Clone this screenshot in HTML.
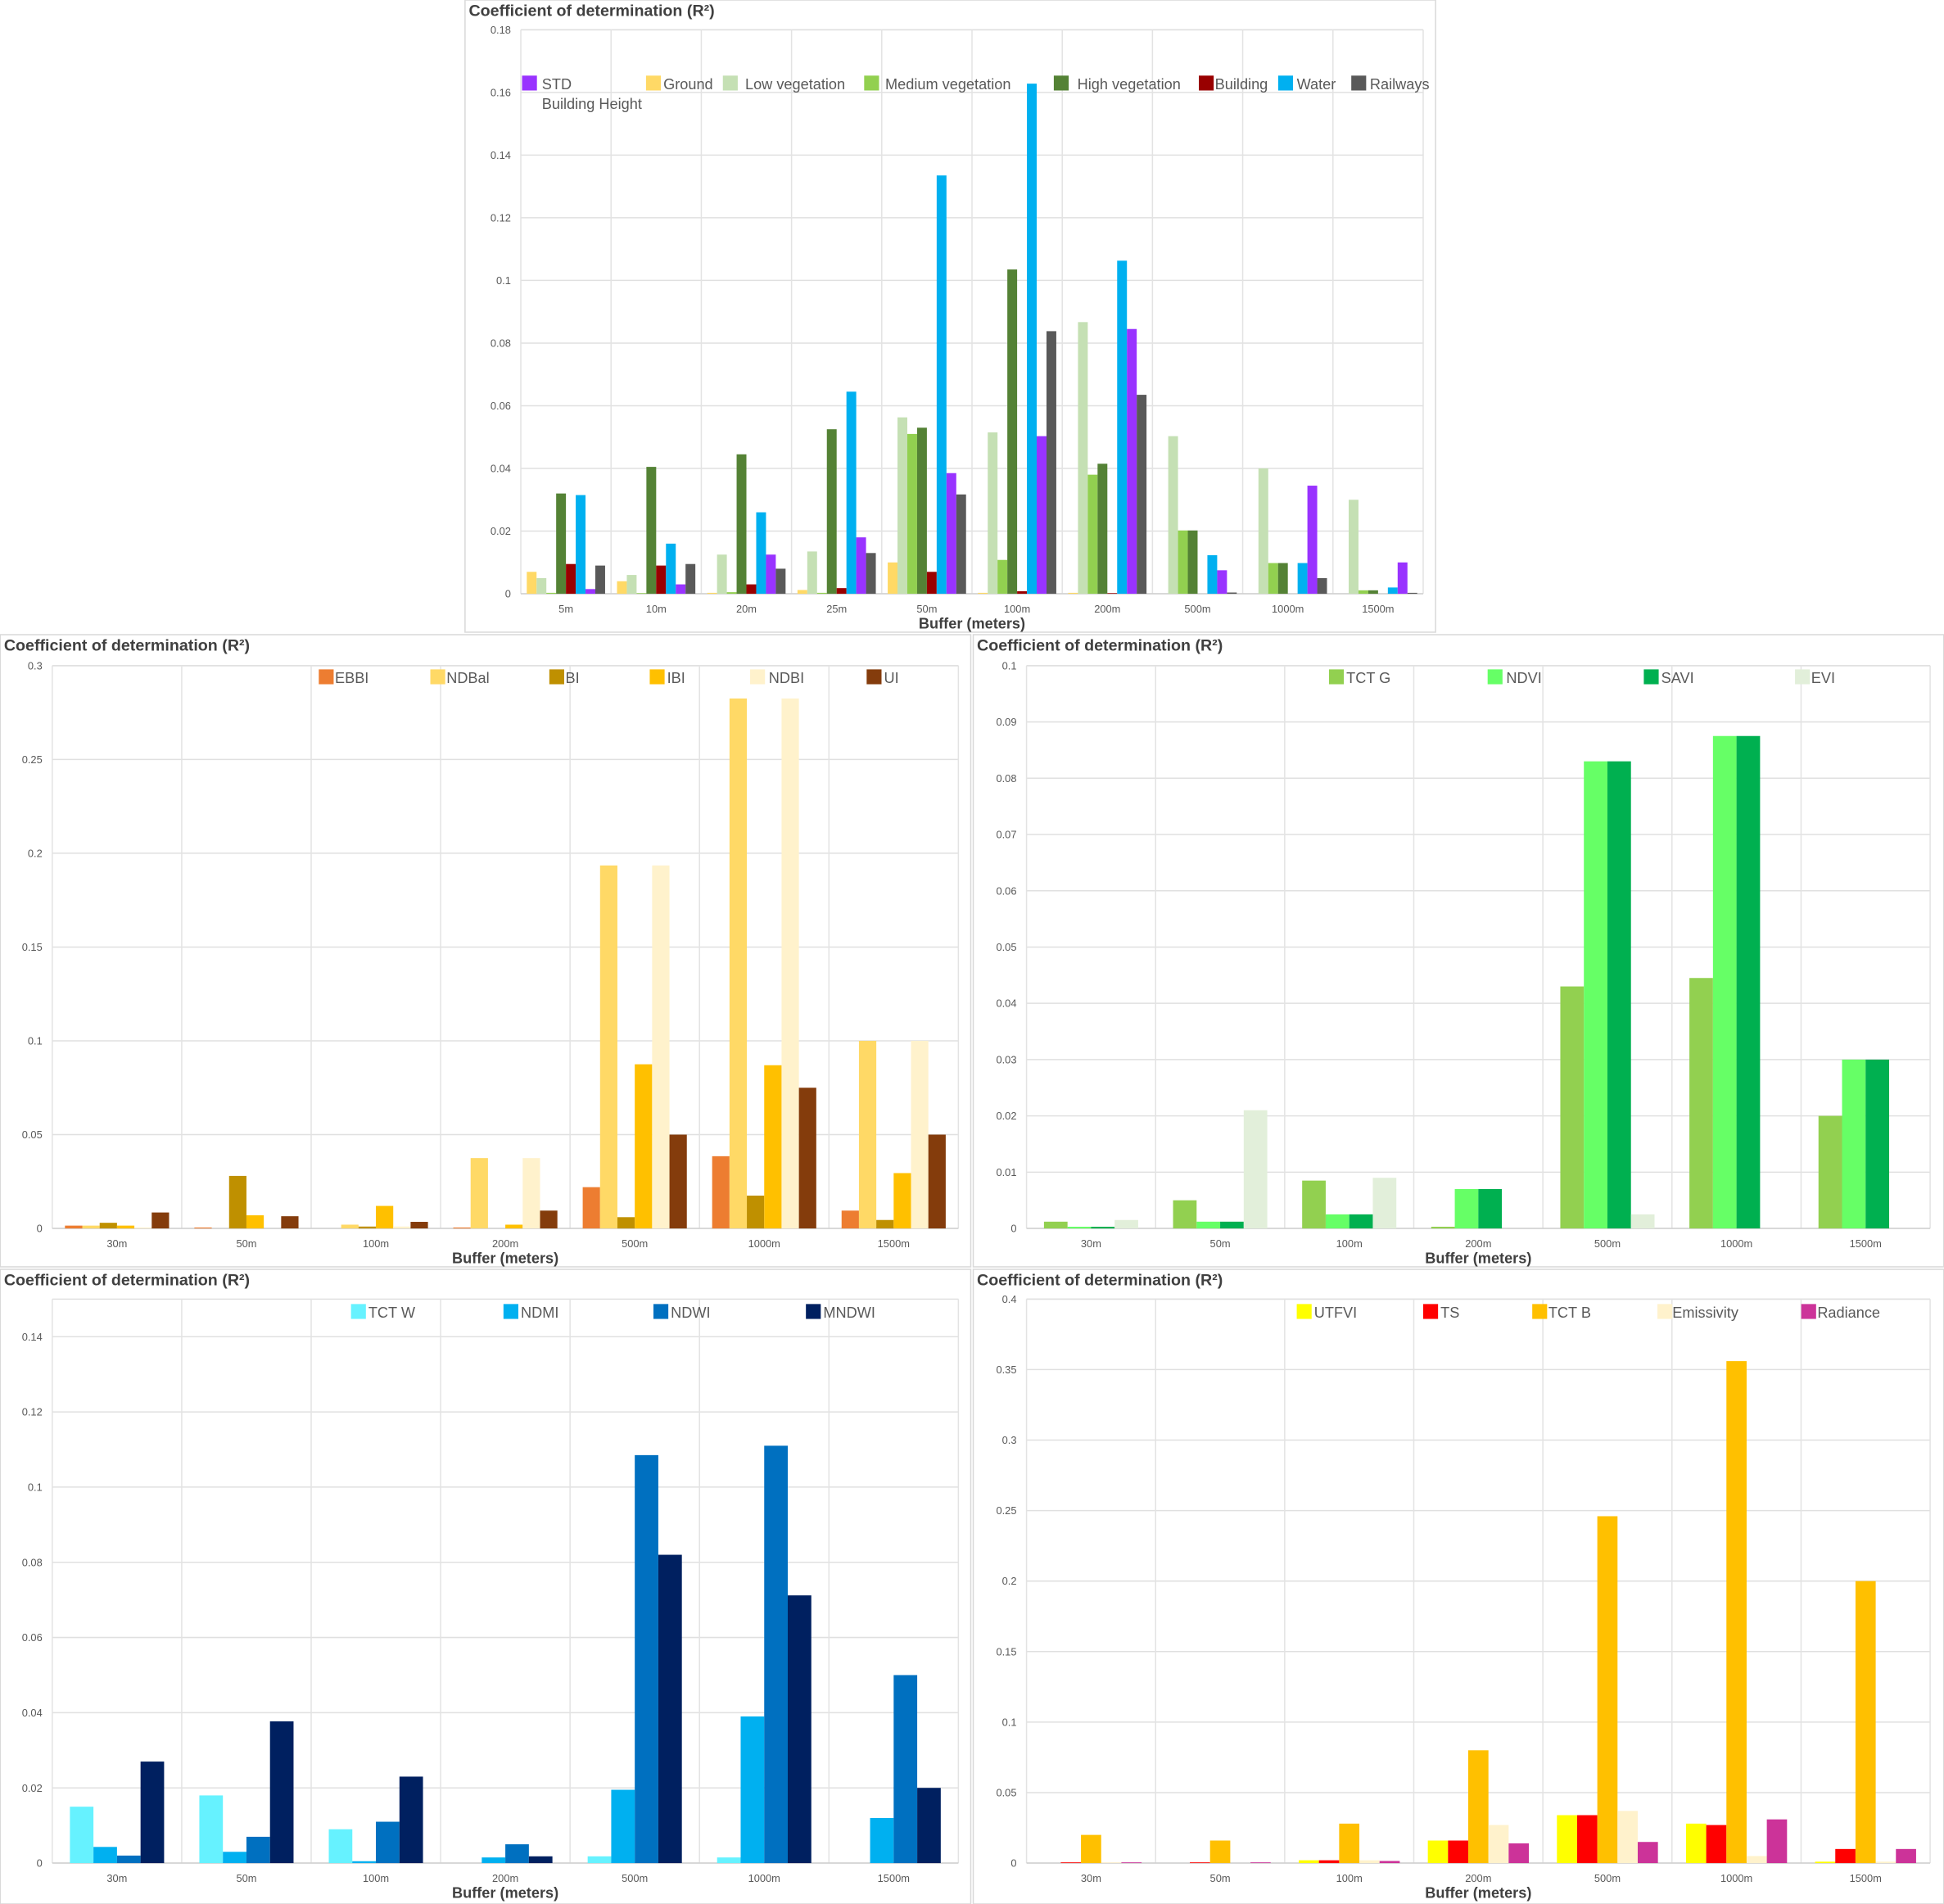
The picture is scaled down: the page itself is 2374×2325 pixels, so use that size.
<!DOCTYPE html>
<html><head><meta charset="utf-8">
<style>
html,body{margin:0;padding:0;background:#fff;}
svg{display:block;}
text{font-family:"Liberation Sans",sans-serif;}
</style></head>
<body>
<svg id="s" width="2374" height="2325" viewBox="0 0 1568 1536" xmlns="http://www.w3.org/2000/svg"></svg>
<script>
var S=document.getElementById('s'),h='';
function r(x,y,w,hh,f,st){h+='<rect x="'+x+'" y="'+y+'" width="'+w+'" height="'+hh+'" fill="'+f+'"'+(st?' stroke="'+st+'"':'')+'/>';}
function t(x,y,s,sz,opt){opt=opt||{};h+='<text x="'+x+'" y="'+y+'" font-size="'+sz+'" fill="'+(opt.c||'#595959')+'"'+(opt.a?' text-anchor="'+opt.a+'"':'')+(opt.b?' font-weight="bold"':'')+'>'+s+'</text>';}
function chart(c){
 // panel
 h+='<rect x="'+c.px+'" y="'+c.py+'" width="'+c.pw+'" height="'+c.ph+'" fill="#fff" stroke="#d9d9d9" stroke-width="1"/>';
 t(c.px+3,c.py+13,'Coefficient of determination (R²)',13,{b:1,c:'#404040'});
 var L=c.L,R=c.R,T=c.T,B=c.B,n=c.cats.length,cw=(R-L)/n;
 function Y(v){return B-(v/c.max)*(B-T);}
 // grid
 for(var v=0;v<=c.max+1e-9;v+=c.step){var y=Y(v);h+='<line x1="'+L+'" x2="'+R+'" y1="'+y+'" y2="'+y+'" stroke="#e0e0e0"/>';
  t(L-8,y+3,c.fmt(v),8.5,{a:'end'});}
 h+='<line x1="'+L+'" x2="'+R+'" y1="'+T+'" y2="'+T+'" stroke="#e0e0e0"/>';
 for(var i=0;i<=n;i++){var x=L+i*cw;h+='<line x1="'+x+'" x2="'+x+'" y1="'+T+'" y2="'+B+'" stroke="#e3e3e3"/>';}
 h+='<line x1="'+L+'" x2="'+R+'" y1="'+B+'" y2="'+B+'" stroke="#d0d0d0"/>';
 var ns=c.cols.length,bw=c.bw,gw=bw*ns;
 for(var i=0;i<n;i++){var cx=L+(i+0.5)*cw,x0=cx-gw/2;
  for(var j=0;j<ns;j++){var v=c.data[i][j];if(v>0){var y=Y(v);r((x0+j*bw).toFixed(2),y.toFixed(2),bw,(B-y).toFixed(2),c.cols[j]);}}
  t(cx,B+15,c.cats[i],8.5,{a:'middle'});}
 t((L+R)/2,B+28,'Buffer (meters)',12,{a:'middle',b:1,c:'#404040'});
 for(var k=0;k<c.leg.length;k++){var g=c.leg[k];r(g[0],c.ly-6,12,12,c.cols[g[3]]);t(g[1],c.ly+5,g[2],12);}
}
function f2(v){return (Math.round(v*100)/100).toString();}
function f3(v){var s=(Math.round(v*1000)/1000).toString();return s;}
// top
chart({px:375,py:0,pw:783,ph:510,L:420,R:1148,T:24,B:479,max:0.18,step:0.02,fmt:f3,bw:7.9,
 cats:['5m','10m','20m','25m','50m','100m','200m','500m','1000m','1500m'],
 cols:['#FFD966','#C5E0B4','#92D050','#548235','#990000','#00B0F0','#9933FF','#595959'],
 data:[[.007,.005,.0003,.032,.0095,.0315,.0015,.009],[.004,.006,.0002,.0405,.009,.016,.003,.0095],
 [.0003,.0125,.0005,.0445,.003,.026,.0125,.008],[.0012,.0135,.0003,.0525,.0018,.0645,.018,.013],
 [.01,.0563,.051,.053,.007,.1335,.0385,.0317],[.0003,.0515,.0108,.1035,.0008,.1628,.0503,.0838],
 [.0003,.0867,.038,.0415,.0002,.1063,.0845,.0635],[0,.0503,.0202,.0202,0,.0123,.0075,.0004],
 [0,.04,.0098,.0098,0,.0098,.0345,.005],[0,.03,.0011,.0011,0,.002,.01,.0003]],
 ly:67,leg:[[421,437,'STD',6],[521,535,'Ground',0],[583,601,'Low vegetation',1],[697,714,'Medium vegetation',2],[850,869,'High vegetation',3],[967,980,'Building',4],[1031,1046,'Water',5],[1090,1105,'Railways',7]]});
t(437,88,'Building Height',12);
// mid left
chart({px:0,py:512,pw:783,ph:510,L:42,R:773,T:537,B:991,max:0.3,step:0.05,fmt:f2,bw:14,
 cats:['30m','50m','100m','200m','500m','1000m','1500m'],
 cols:['#ED7D31','#FFD966','#BF9000','#FFC000','#FFF2CC','#843C0C'],
 data:[[.0015,.0015,.003,.0015,.0005,.0085],[.0005,0,.028,.007,0,.0065],[0,.002,.001,.012,.001,.0035],
 [.0005,.0375,0,.002,.0375,.0095],[.022,.1935,.006,.0875,.1935,.05],[.0385,.2825,.0175,.087,.2825,.075],[.0095,.1,.0045,.0295,.1,.05]],
 ly:546,leg:[[257,270,'EBBI',0],[347,360,'NDBal',1],[443,456,'BI',2],[524,538,'IBI',3],[605,620,'NDBI',4],[699,713,'UI',5]]});
// mid right
chart({px:785,py:512,pw:783,ph:510,L:828,R:1557,T:537,B:991,max:0.1,step:0.01,fmt:f2,bw:19,
 cats:['30m','50m','100m','200m','500m','1000m','1500m'],
 cols:['#92D050','#66FF66','#00B050','#E2EFDA'],
 data:[[.0012,.0003,.0003,.0015],[.005,.0012,.0012,.021],[.0085,.0025,.0025,.009],[.0003,.007,.007,0],[.043,.083,.083,.0025],[.0445,.0875,.0875,0],[.02,.03,.03,0]],
 ly:546,leg:[[1072,1086,'TCT G',0],[1200,1215,'NDVI',1],[1326,1340,'SAVI',2],[1448,1461,'EVI',3]]});
// bottom left
chart({px:0,py:1024,pw:783,ph:512,L:42,R:773,T:1048,B:1503,max:0.15,step:0.02,fmt:f2,bw:19,
 cats:['30m','50m','100m','200m','500m','1000m','1500m'],
 cols:['#66F2FF','#00B0F0','#0070C0','#002060'],
 data:[[.015,.0043,.002,.027],[.018,.003,.007,.0377],[.009,.0005,.011,.023],[0,.0015,.005,.0018],[.0018,.0195,.1085,.082],[.0015,.039,.111,.0712],[0,.012,.05,.02]],
 ly:1058,leg:[[283,297,'TCT W',0],[406,420,'NDMI',1],[527,541,'NDWI',2],[650,664,'MNDWI',3]]});
// bottom right
chart({px:785,py:1024,pw:783,ph:512,L:828,R:1557,T:1048,B:1503,max:0.4,step:0.05,fmt:f2,bw:16.3,
 cats:['30m','50m','100m','200m','500m','1000m','1500m'],
 cols:['#FFFF00','#FF0000','#FFC000','#FFF2CC','#CC3399'],
 data:[[0,.0005,.02,.0005,.0005],[0,.0005,.016,0,.0005],[.002,.002,.028,.002,.0015],[.016,.016,.08,.027,.014],[.034,.034,.246,.037,.015],[.028,.027,.356,.005,.031],[.001,.01,.2,.001,.01]],
 ly:1058,leg:[[1046,1060,'UTFVI',0],[1148,1162,'TS',1],[1236,1249,'TCT B',2],[1337,1349,'Emissivity',3],[1453,1466,'Radiance',4]]});
S.innerHTML=h;
</script>
</body></html>
